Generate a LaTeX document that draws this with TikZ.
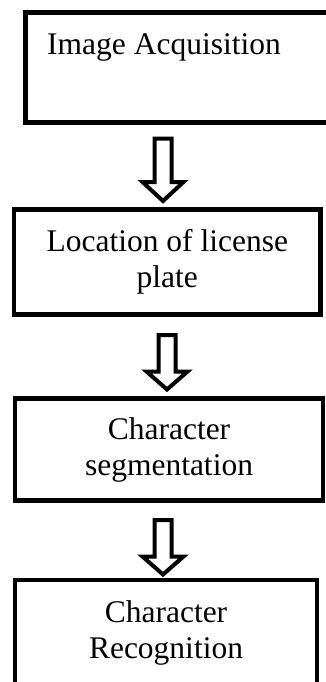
\documentclass[tikz,border=0pt]{standalone}
\usepackage{fontspec}
\setmainfont{Liberation Serif}
\begin{document}
\begin{tikzpicture}[x=1pt,y=-1pt,
  box/.style={draw=black, line width=4.5pt, inner sep=0pt, align=center,
    font=\fontsize{31.5}{36}\selectfont},
  label text/.style={inner sep=0pt, font=\fontsize{31.5}{36}\selectfont},
  arrowline/.style={draw=black, line width=4pt, fill=white, line join=miter}]
\useasboundingbox (0,0) rectangle (326,682);
\fill[white] (0,0) rectangle (326,682);
% boxes
\node[box, minimum width=309.5pt, minimum height=110pt] (b1) at (180.25,67.5) {};
\node[label text, anchor=base west] (t1) at (47,55) {Image Acquisition};
\node[box, minimum width=306.5pt, minimum height=105pt] (b2) at (167.25,262) {Location of license\\plate};
\node[box, minimum width=308pt, minimum height=102pt] (b3) at (169,449.5) {Character\\segmentation};
\node[box, minimum width=302pt, minimum height=105pt] (b4) at (166,632.5) {Character\\Recognition};
% hollow block arrows
\coordinate (a1) at (163,138.5);
\coordinate (a2) at (167,335);
\coordinate (a3) at (163,520);
\draw[arrowline] (a1) ++(-8.5,0) -- ++(0,43.5) -- ++(-12,0) -- ++(20.5,19) -- ++(20.5,-19) -- ++(-12,0) -- ++(0,-43.5) -- cycle;
\draw[arrowline] (a2) ++(-8.5,0) -- ++(0,36.5) -- ++(-12,0) -- ++(20.5,18) -- ++(20.5,-18) -- ++(-12,0) -- ++(0,-36.5) -- cycle;
\draw[arrowline] (a3) ++(-8.5,0) -- ++(0,36.5) -- ++(-12,0) -- ++(20.5,18) -- ++(20.5,-18) -- ++(-12,0) -- ++(0,-36.5) -- cycle;
\end{tikzpicture}
\end{document}
